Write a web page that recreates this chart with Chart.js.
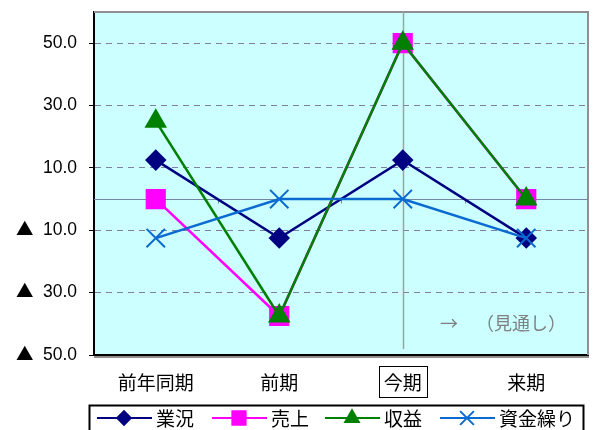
<!DOCTYPE html>
<html>
<head>
<meta charset="utf-8">
<script src="https://cdn.jsdelivr.net/npm/chart.js@4.4.1/dist/chart.umd.min.js"></script>
<style>
  html, body { margin: 0; padding: 0; background: #fff; }
  #wrap { width: 595px; height: 430px; }
  @font-face {
    font-family: 'TriJP';
    src: local('Noto Sans CJK JP Regular'), local('NotoSansCJKjp-Regular'), local('Noto Sans CJK JP');
    unicode-range: U+25B2;
  }
</style>
</head>
<body>
<div id="wrap"><canvas id="c" width="595" height="430"></canvas></div>
<script>
// ─── Données ─────────────────────────────────────────────
const PERIODES   = ['前年同期', '前期', '今期', '来期'];
const GYOKYO     = [12.5, -12.5, 12.5, -12.5];
const URIAGE     = [0, -37.5, 50, 0];
const SHUEKI     = [25, -37.5, 50, 0];
const SHIKINGURI = [-12.5, 0, 0, -12.5];
const Y_TICKS    = [-50, -30, -10, 10, 30, 50];
const PERIODE_COURANTE = '今期';
const NOTE_FLECHE = '→';
const NOTE_MIHOSHI = '（見通し）';

const POLICE = 'TriJP, "Liberation Sans", "Noto Sans CJK JP", sans-serif';
const POLICE_JP = '"Noto Sans CJK JP", "Liberation Sans", sans-serif';

// fond + cadre + ligne zéro + repère "今期"
const decorPlugin = {
    id: 'decor',
    beforeDraw(chart) {
        const { ctx, chartArea: a } = chart;
        ctx.save();
        ctx.fillStyle = '#ccffff';
        ctx.fillRect(a.left, a.top, a.right - a.left, a.bottom - a.top);
        ctx.restore();
    },
    beforeDatasetsDraw(chart) {
        const { ctx, chartArea: a, scales } = chart;
        const x = scales.x, y = scales.y;
        ctx.save();
        // cadre gris haut / droite
        ctx.strokeStyle = '#909090';
        ctx.lineWidth = 2;
        ctx.beginPath();
        ctx.moveTo(a.left, a.top);
        ctx.lineTo(a.right, a.top);
        ctx.lineTo(a.right, a.bottom);
        ctx.stroke();
        // ombre sous l'axe
        ctx.beginPath();
        ctx.moveTo(a.left, a.bottom + 2);
        ctx.lineTo(a.right + 1, a.bottom + 2);
        ctx.stroke();
        // ligne zéro + graduations
        const y0 = Math.round(y.getPixelForValue(0)) + 0.5;
        ctx.strokeStyle = '#7585a5';
        ctx.lineWidth = 1;
        ctx.beginPath();
        ctx.moveTo(a.left, y0);
        ctx.lineTo(a.right, y0);
        for (let i = 0; i < PERIODES.length - 1; i++) {
            const xb = Math.round((x.getPixelForValue(i) + x.getPixelForValue(i + 1)) / 2) + 0.5;
            ctx.moveTo(xb, y0);
            ctx.lineTo(xb, y0 + 4);
        }
        ctx.stroke();
        // ligne verticale "今期"
        const xc = Math.round(x.getPixelForValue(PERIODES.indexOf(PERIODE_COURANTE))) + 0.5;
        ctx.strokeStyle = '#a0a0a0';
        ctx.lineWidth = 1.5;
        ctx.beginPath();
        ctx.moveTo(xc, a.top);
        ctx.lineTo(xc, a.bottom - 6);
        ctx.stroke();
        // note
        ctx.fillStyle = '#808080';
        ctx.font = '18px ' + POLICE_JP;
        ctx.textBaseline = 'middle';
        ctx.textAlign = 'left';
        ctx.fillText(NOTE_FLECHE, 440, 323);
        ctx.fillText(NOTE_MIHOSHI, 476, 323);
        ctx.restore();
    },
    afterDraw(chart) {
        const { ctx, scales } = chart;
        const x = scales.x;
        ctx.save();
        // encadré autour de "今期"
        const xc = x.getPixelForValue(PERIODES.indexOf(PERIODE_COURANTE));
        ctx.strokeStyle = '#000';
        ctx.lineWidth = 1;
        ctx.strokeRect(Math.round(xc - 24) + 0.5, 366.5, 48, 31);
        // légende
        const lx = 89.5, ly = 405.5, lw = 494, lh = 34;
        ctx.lineWidth = 2;
        ctx.strokeRect(lx, ly, lw, lh);
        const starts = [97, 212, 325, 440];
        ctx.font = '19px ' + POLICE_JP;
        ctx.textBaseline = 'middle';
        ctx.textAlign = 'left';
        chart.data.datasets.forEach((ds, i) => {
            const sx = starts[i], cy = 418;
            ctx.strokeStyle = ds.borderColor;
            ctx.fillStyle = ds.borderColor;
            ctx.lineWidth = 2;
            ctx.beginPath();
            ctx.moveTo(sx, cy);
            ctx.lineTo(sx + 55, cy);
            ctx.stroke();
            Chart.helpers.drawPoint(ctx, {
                pointStyle: ds.pointStyle,
                radius: ds.pointRadius * 0.75,
                borderWidth: ds.pointBorderWidth || 1
            }, sx + 27, cy);
            ctx.fillStyle = '#000';
            ctx.fillText(ds.label, sx + 59, cy + 1);
        });
        ctx.restore();
    }
};

function serie(label, data, couleur, style, rayon, ordre, extra) {
    return Object.assign({
        label, data,
        order: ordre,
        borderColor: couleur,
        backgroundColor: couleur,
        pointBackgroundColor: couleur,
        pointBorderColor: couleur,
        borderWidth: 2.5,
        pointStyle: style,
        pointRadius: rayon,
        pointHoverRadius: rayon,
        tension: 0,
    }, extra || {});
}

function dessiner() {
    new Chart(document.getElementById('c'), {
        type: 'line',
        data: {
            labels: PERIODES,
            datasets: [
                serie('業況', GYOKYO, '#000080', 'rectRot', 9, 4),
                serie('売上', URIAGE, '#ff00ff', 'rect', 12.5, 3),
                serie('収益', SHUEKI, '#008000', 'triangle', 10.5, 2),
                serie('資金繰り', SHIKINGURI, '#0a6ad0', 'crossRot', 13, 1, { pointBorderWidth: 2 }),
            ],
        },
        options: {
            responsive: false,
            animation: false,
            devicePixelRatio: 1,
            layout: { autoPadding: false, padding: { top: 12, right: 7, left: 0, bottom: 0 } },
            plugins: { legend: { display: false }, tooltip: { enabled: false } },
            scales: {
                x: {
                    offset: true,
                    grid: { display: false },
                    border: { color: '#000', width: 2 },
                    ticks: { color: '#000', font: { family: POLICE_JP, size: 19 }, padding: 8, maxRotation: 0 },
                    afterFit: s => { s.height = 75; s.paddingLeft = 0; s.paddingRight = 0; },
                },
                y: {
                    min: -50,
                    max: 60,
                    afterBuildTicks: s => { s.ticks = Y_TICKS.map(v => ({ value: v })); },
                    afterFit: s => { s.width = 94; s.paddingTop = 0; s.paddingBottom = 0; },
                    border: { color: '#000', width: 2, dash: [6, 5] },
                    grid: {
                        color: '#7f7fa3',
                        lineWidth: 1,
                        tickLength: 5,
                        tickColor: '#000',
                        tickBorderDash: [],
                    },
                    ticks: {
                        color: '#000',
                        padding: 12,
                        font: { family: POLICE, size: 17.5 },
                        callback: v => v < 0 ? '▲  ' + Math.abs(v).toFixed(1) : v.toFixed(1),
                    },
                },
            },
        },
        plugins: [decorPlugin],
    });
}

document.fonts.load('17px TriJP', '▲').then(dessiner, dessiner);
</script>
</body>
</html>
